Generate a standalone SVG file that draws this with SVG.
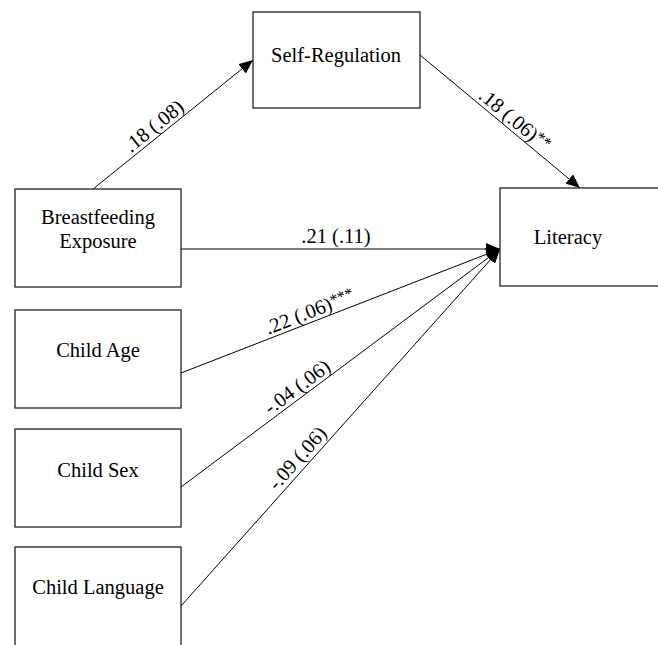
<svg xmlns="http://www.w3.org/2000/svg" width="658" height="645" viewBox="0 0 658 645" font-family="'Liberation Serif', 'Times New Roman', 'DejaVu Serif', serif">
<style>
.box{fill:#fff;stroke:#222;stroke-width:1.3}
text{font-family:'Liberation Serif','Times New Roman','DejaVu Serif',serif;font-size:20.5px;fill:#000;text-anchor:middle}
.e{fill:none;stroke:#000;stroke-width:1}
</style>
<defs>
<marker id="ah" markerUnits="userSpaceOnUse" markerWidth="16" markerHeight="12" refX="14" refY="6" orient="auto">
<path d="M0,0 L14,6 L0,12 Z" fill="#000"/>
</marker>
</defs>
<g id="connectors">
<line class="e" x1="93" y1="189" x2="253" y2="60" marker-end="url(#ah)"/>
<line class="e" x1="420" y1="55" x2="580" y2="188" marker-end="url(#ah)"/>
<line class="e" x1="181" y1="249" x2="500" y2="249" marker-end="url(#ah)"/>
<line class="e" x1="181" y1="373" x2="500" y2="249" marker-end="url(#ah)"/>
<line class="e" x1="181" y1="487" x2="500" y2="249" marker-end="url(#ah)"/>
<line class="e" x1="181" y1="606" x2="500" y2="249" marker-end="url(#ah)"/>
<text transform="translate(160.7,134.4) rotate(-38.9)" y="-4">.18 (.08)</text>
<text transform="translate(508,128) rotate(39.7)" y="-4">.18 (.06)<tspan font-size="16" dy="-4">**</tspan></text>
<text x="336" y="243">.21 (.11)</text>
<text transform="translate(313.6,321.5) rotate(-21.2)" y="-4">.22 (.06)<tspan font-size="16" dy="-4">***</tspan></text>
<text transform="translate(303.5,395.6) rotate(-36.7)" y="-4">-.04 (.06)</text>
<text transform="translate(306,466) rotate(-48.2)" y="-5">-.09 (.06)</text>
</g>
<g id="self-regulation">
<rect class="box" x="253" y="12" width="167" height="96"/>
<text x="336" y="62">Self-Regulation</text>
</g>
<g id="breastfeeding">
<rect class="box" x="15" y="189" width="166" height="98"/>
<text x="98" y="224">Breastfeeding</text>
<text x="98" y="248">Exposure</text>
</g>
<g id="literacy">
<rect class="box" x="500" y="188" width="170" height="98"/>
<text x="568" y="244">Literacy</text>
</g>
<g id="child-age">
<rect class="box" x="15" y="310" width="166" height="98"/>
<text x="98" y="357">Child Age</text>
</g>
<g id="child-sex">
<rect class="box" x="15" y="429" width="166" height="98"/>
<text x="98" y="477">Child Sex</text>
</g>
<g id="child-language">
<rect class="box" x="15" y="547" width="166" height="110"/>
<text x="98" y="594">Child Language</text>
</g>
</svg>
